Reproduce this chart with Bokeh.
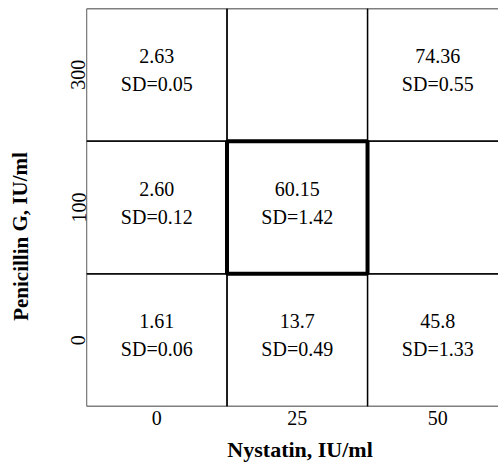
from bokeh.plotting import figure
from bokeh.models import FixedTicker, ColumnDataSource, Range1d
from bokeh.layouts import row, column
from bokeh.core.properties import value
from bokeh.embed import file_html
from bokeh.resources import INLINE

# Data
nystatin_labels = ["0", "25", "50"]          # x categories (IU/ml)
penicillin_labels = ["0", "100", "300"]      # y categories (IU/ml)
cell_x = [0, 2, 0, 1, 0, 1, 2]               # index into nystatin_labels
cell_y = [2, 2, 1, 1, 0, 0, 0]               # index into penicillin_labels
cell_mean = ["2.63", "74.36", "2.60", "60.15", "1.61", "13.7", "45.8"]
cell_sd = ["0.05", "0.55", "0.12", "1.42", "0.06", "0.49", "1.33"]
highlight_x = [1]
highlight_y = [1]
x_title = "Nystatin, IU/ml"
y_title = "Penicillin G, IU/ml"

FONT = "Liberation Serif"
STRIP_W = 34
MAIN_W = 498 - STRIP_W
MAIN_H = 433
BOTTOM_H = 464 - MAIN_H

p = figure(width=MAIN_W, height=MAIN_H, output_backend="svg", toolbar_location=None,
           x_range=(-0.5, 2.432), y_range=(-0.5, 2.5),
           min_border_left=86 - STRIP_W, min_border_right=0, min_border_top=8,
           min_border_bottom=27)
p.outline_line_color = None
p.grid.visible = False
p.background_fill_color = "white"
p.border_fill_color = "white"

# grid cells
gx = [i for j in range(len(penicillin_labels)) for i in range(len(nystatin_labels))]
gy = [j for j in range(len(penicillin_labels)) for i in range(len(nystatin_labels))]
p.quad(left=[v - 0.5 for v in gx], right=[v + 0.5 for v in gx],
       bottom=[v - 0.5 for v in gy], top=[v + 0.5 for v in gy],
       fill_color=None, line_color="black", line_width=1.3)

# highlighted cell
p.quad(left=[v - 0.5 for v in highlight_x], right=[v + 0.5 for v in highlight_x],
       bottom=[v - 0.5 for v in highlight_y], top=[v + 0.5 for v in highlight_y],
       fill_color=None, line_color="black", line_width=4)

src = ColumnDataSource(dict(x=cell_x, y=cell_y, m=cell_mean,
                            sd=["SD=" + s for s in cell_sd]))
p.text(x="x", y="y", text="m", source=src, text_align="center", text_baseline="middle",
       y_offset=-19, text_font=value(FONT), text_font_size="20px", text_color="black")
p.text(x="x", y="y", text="sd", source=src, text_align="center", text_baseline="middle",
       y_offset=9, text_font=value(FONT), text_font_size="20px", text_color="black")

# axes
p.xaxis.ticker = FixedTicker(ticks=list(range(len(nystatin_labels))))
p.xaxis.major_label_overrides = {i: t for i, t in enumerate(nystatin_labels)}
p.yaxis.ticker = FixedTicker(ticks=list(range(len(penicillin_labels))))
p.yaxis.major_label_overrides = {i: t for i, t in enumerate(penicillin_labels)}
p.yaxis.major_label_orientation = "vertical"
for ax in (p.xaxis, p.yaxis):
    ax.axis_line_color = None
    ax.major_tick_line_color = None
    ax.minor_tick_line_color = None
    ax.major_tick_in = 0
    ax.major_tick_out = 0
    ax.major_label_text_font = FONT
    ax.major_label_text_font_size = "20px"
    ax.major_label_text_color = "black"
p.xaxis.major_label_standoff = 4
p.yaxis.major_label_standoff = 1


def strip(w, h, x_range):
    s = figure(width=w, height=h, output_backend="svg", toolbar_location=None,
               x_range=x_range, y_range=Range1d(0, h), min_border=0,
               x_axis_type=None, y_axis_type=None)
    s.grid.visible = False
    s.outline_line_color = None
    s.background_fill_color = "white"
    s.border_fill_color = "white"
    return s


# left strip: y-axis title
left = strip(STRIP_W, 464, Range1d(0, STRIP_W))
left.text(x=[20], y=[464 - 236], text=[y_title], angle=1.5708, text_align="center",
          text_baseline="middle", text_font=value(FONT), text_font_size="21px",
          text_font_style="bold", text_color="black")

# bottom strip: x-axis title (shares the x scale of the main plot)
bottom = strip(MAIN_W, BOTTOM_H, p.x_range)
bottom.text(x=[1.02], y=[BOTTOM_H - (449 - MAIN_H)], text=[x_title],
            text_align="center", text_baseline="middle", text_font=value(FONT),
            text_font_size="22px", text_font_style="bold", text_color="black")

layout = row(left, column(p, bottom, spacing=0), spacing=0)
open("out.html", "w").write(file_html(layout, INLINE))
